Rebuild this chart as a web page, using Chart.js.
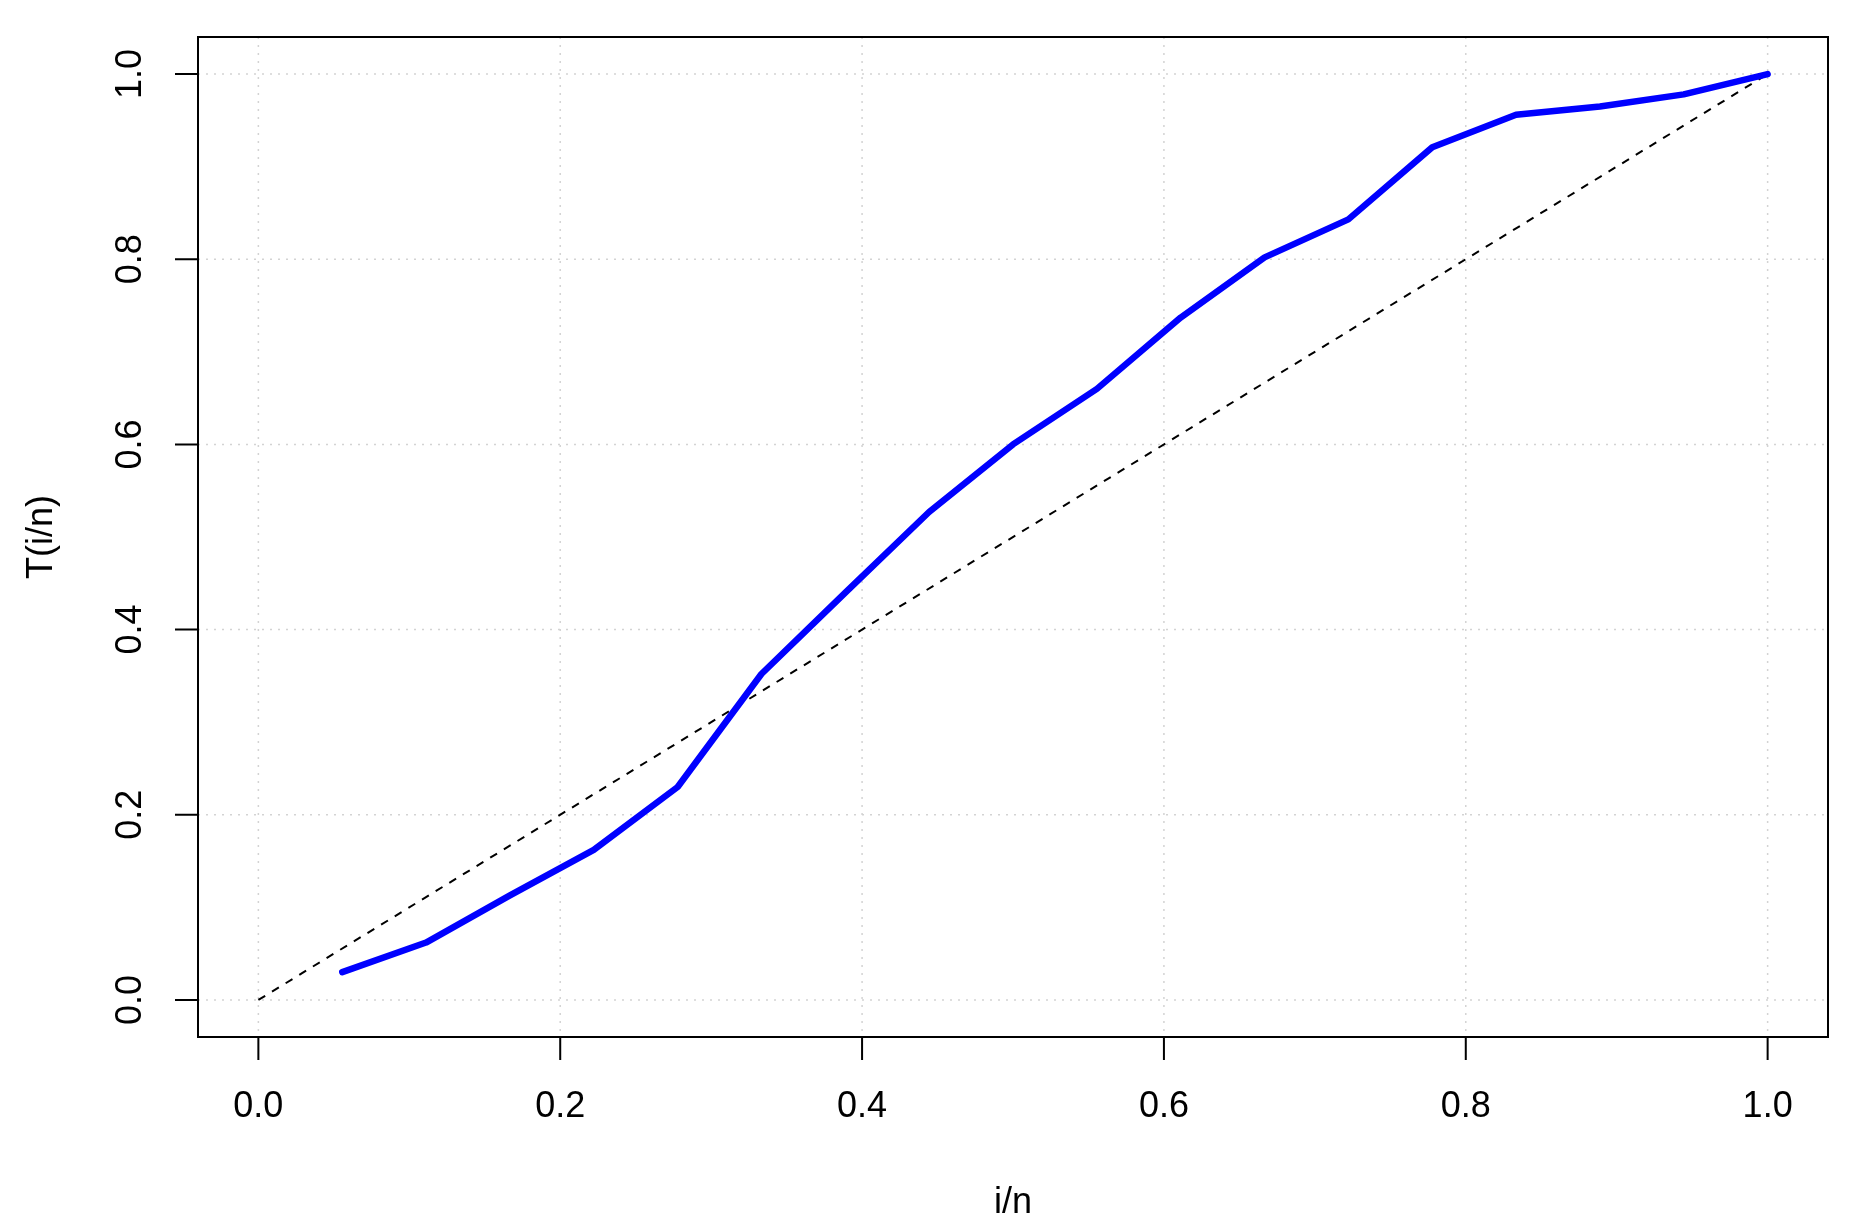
<!DOCTYPE html>
<html>
<head>
<meta charset="utf-8">
<script src="https://cdn.jsdelivr.net/npm/chart.js@4"></script>
<style>
  html, body { margin: 0; padding: 0; background: #fff; }
  #wrap { width: 1852px; height: 1230px; }
</style>
</head>
<body>
<div id="wrap"><canvas id="c"></canvas></div>
<script>
// data
const xValues = [0.0556, 0.1111, 0.1667, 0.2222, 0.2778, 0.3333, 0.3889, 0.4444, 0.5,
                 0.5556, 0.6111, 0.6667, 0.7222, 0.7778, 0.8333, 0.8889, 0.9444, 1.0];
const yValues = [0.030, 0.062, 0.113, 0.162, 0.230, 0.352, 0.440, 0.527, 0.600,
                 0.660, 0.737, 0.802, 0.843, 0.921, 0.956, 0.965, 0.978, 1.000];
const diagX = [0, 1];
const diagY = [0, 1];
const tickValues = [0, 0.2, 0.4, 0.6, 0.8, 1.0];
const tickLabels = ['0.0', '0.2', '0.4', '0.6', '0.8', '1.0'];

const FONT = '36px "Liberation Sans", Arial, sans-serif';

// R-style frame, grid, ticks and labels
const rFrame = {
  id: 'rFrame',
  beforeDatasetsDraw(chart) {
    const { ctx, chartArea: a, scales: { x, y } } = chart;
    ctx.save();
    ctx.strokeStyle = '#d3d3d3';
    ctx.lineWidth = 1.5;
    ctx.setLineDash([2, 6]);
    tickValues.forEach(v => {
      const px = x.getPixelForValue(v), py = y.getPixelForValue(v);
      ctx.beginPath(); ctx.moveTo(px, a.top); ctx.lineTo(px, a.bottom); ctx.stroke();
      ctx.beginPath(); ctx.moveTo(a.left, py); ctx.lineTo(a.right, py); ctx.stroke();
    });
    ctx.restore();
  },
  afterDraw(chart) {
    const { ctx, chartArea: a, scales: { x, y } } = chart;
    ctx.save();
    ctx.strokeStyle = '#000';
    ctx.lineWidth = 2;
    ctx.strokeRect(a.left, a.top, a.right - a.left, a.bottom - a.top);

    ctx.beginPath();
    tickValues.forEach(v => {
      const px = x.getPixelForValue(v);
      ctx.moveTo(px, a.bottom); ctx.lineTo(px, a.bottom + 23);
      const py = y.getPixelForValue(v);
      ctx.moveTo(a.left, py); ctx.lineTo(a.left - 23, py);
    });
    ctx.stroke();

    ctx.fillStyle = '#000';
    ctx.font = FONT;
    ctx.textAlign = 'center';
    ctx.textBaseline = 'middle';
    tickValues.forEach((v, i) => {
      ctx.fillText(tickLabels[i], x.getPixelForValue(v), 1107);
    });
    ctx.fillText('i/n', (a.left + a.right) / 2, 1203);
    tickValues.forEach((v, i) => {
      ctx.save();
      ctx.translate(131, y.getPixelForValue(v));
      ctx.rotate(-Math.PI / 2);
      ctx.fillText(tickLabels[i], 0, 0);
      ctx.restore();
    });
    ctx.save();
    ctx.translate(42, (a.top + a.bottom) / 2);
    ctx.rotate(-Math.PI / 2);
    ctx.fillText('T(i/n)', 0, 0);
    ctx.restore();
    ctx.restore();
  }
};

new Chart(document.getElementById('c'), {
  type: 'scatter',
  data: {
    datasets: [{
      data: xValues.map((v, i) => ({ x: v, y: yValues[i] })),
      showLine: true,
      borderColor: '#0000ff',
      borderWidth: 6.5,
      borderCapStyle: 'round',
      borderJoinStyle: 'round',
      pointRadius: 0,
      fill: false
    }, {
      data: diagX.map((v, i) => ({ x: v, y: diagY[i] })),
      showLine: true,
      borderColor: '#000',
      borderWidth: 2,
      borderDash: [8, 8],
      pointRadius: 0,
      fill: false
    }]
  },
  options: {
    responsive: true,
    maintainAspectRatio: false,
    animation: false,
    layout: { padding: { left: 198, right: 24, top: 37, bottom: 193 } },
    plugins: { legend: { display: false }, tooltip: { enabled: false } },
    scales: {
      x: { type: 'linear', min: -0.04, max: 1.04, display: false },
      y: { type: 'linear', min: -0.04, max: 1.04, display: false }
    }
  },
  plugins: [rFrame]
});
</script>
</body>
</html>
